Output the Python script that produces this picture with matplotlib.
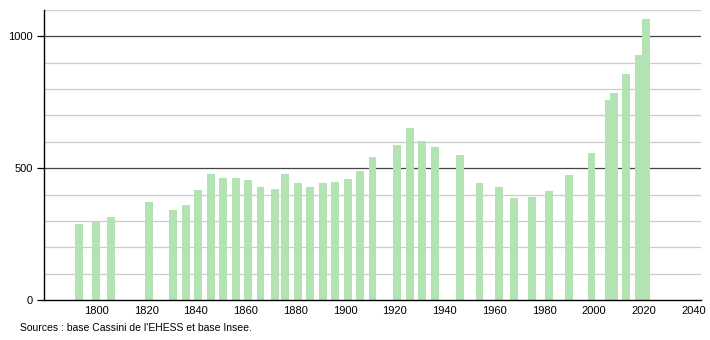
import matplotlib
matplotlib.use("Agg")
import matplotlib.pyplot as plt

years = [1793, 1800, 1806, 1821, 1831, 1836, 1841, 1846, 1851, 1856,
         1861, 1866, 1872, 1876, 1881, 1886, 1891, 1896, 1901, 1906,
         1911, 1921, 1926, 1931, 1936, 1946, 1954, 1962, 1968, 1975,
         1982, 1990, 1999, 2006, 2008, 2013, 2018, 2021]
population = [289, 300, 316, 373, 342, 361, 418, 479, 464, 464,
              456, 430, 422, 477, 445, 430, 442, 449, 460, 490,
              544, 589, 651, 605, 579, 549, 442, 427, 388, 392,
              414, 475, 559, 760, 786, 859, 929, 1067]
y_ticks = [0, 500, 1000]
x_ticks = [1800, 1820, 1840, 1860, 1880, 1900, 1920, 1940, 1960, 1980, 2000, 2020, 2040]
source = "Sources : base Cassini de l'EHESS et base Insee."

plt.rcParams["font.family"] = ["Liberation Sans", "DejaVu Sans"]

fig = plt.figure(figsize=(7.1, 3.4), dpi=100)
ax = fig.add_axes([44 / 710, 40 / 340, 657 / 710, 290 / 340])

ax.set_xlim(1779, 2043)
ax.set_ylim(0, 1100)

# light grid every 100, darker at the labelled values
for v in range(100, 1101, 100):
    if v in y_ticks:
        ax.axhline(v, color="#444444", lw=0.9, zorder=1)
    else:
        ax.axhline(v, color="#cccccc", lw=0.9, zorder=1)

ax.bar(years, population, width=3.2, color="#b3e3b3", zorder=2)

ax.set_yticks(y_ticks)
ax.set_xticks(x_ticks)
ax.tick_params(axis="y", length=5, width=0.9, labelsize=8, pad=3)
ax.tick_params(axis="x", length=0, labelsize=8, pad=4)

for side in ("top", "right"):
    ax.spines[side].set_visible(False)
ax.spines["left"].set_linewidth(1.0)
ax.spines["bottom"].set_linewidth(1.0)

fig.text(20 / 710, 1 - 328 / 340, source, fontsize=7.5, va="center", ha="left")

fig.savefig("out.png", dpi=100)
